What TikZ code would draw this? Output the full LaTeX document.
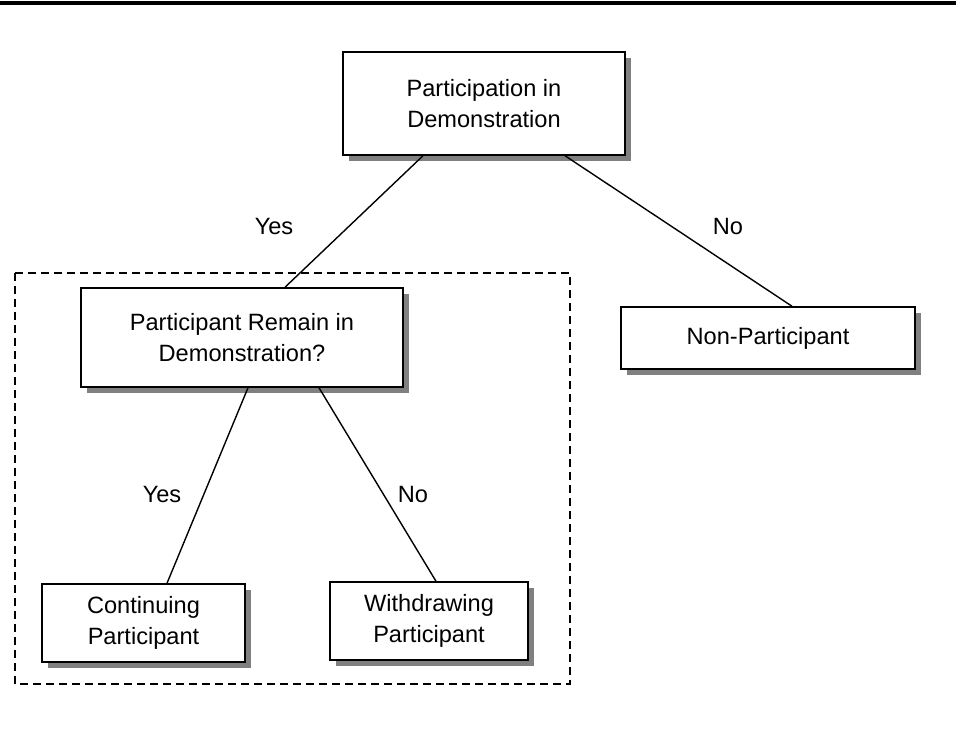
\documentclass[tikz,border=0pt]{standalone}
\usepackage{fontspec}
\setmainfont{Liberation Sans}
\usetikzlibrary{shadows}
\tikzset{
  box/.style  = {draw,fill=white,line width=0.75pt,align=center,inner sep=0pt,
                 font=\fontsize{11.8}{15.5}\selectfont,
                 drop shadow={shadow xshift=3pt,shadow yshift=-3pt,fill=black!50,opacity=1}},
  link/.style = {line width=0.7pt},
  lbl/.style  = {font=\fontsize{11.8}{15.5}\selectfont}
}

\begin{document}
\begin{tikzpicture}[x=0.5pt,y=-0.5pt]
  \useasboundingbox (0,0) rectangle (956,738);
  \draw[line width=2pt] (0,3) -- (956,3);
  % group round the follow-up question
  \draw[dash pattern=on 4pt off 2.5pt,line width=0.65pt] (15,273) rectangle (570,684);
  \node[box,minimum width=141pt,minimum height=51.5pt] (part) at (484,103.5) {Participation in\\Demonstration};
  \node[box,minimum width=161pt,minimum height=49.5pt] (remain) at (242,337.5) {Participant Remain in\\Demonstration?};
  \node[box,minimum width=147pt,minimum height=31pt]   (nonpart) at (768,338) {Non-Participant};
  \node[box,minimum width=101.5pt,minimum height=39pt] (cont) at (143.5,623) {Continuing\\Participant};
  \node[box,minimum width=99pt,minimum height=39pt]    (withd) at (429,621) {Withdrawing\\Participant};
  \draw[link] ([xshift=-30.5pt]part.south) -- ([xshift=21.5pt]remain.north);
  \draw[link] ([xshift=40.5pt]part.south) -- ([xshift=12pt]nonpart.north);
  \draw[link] ([xshift=3pt]remain.south) -- ([xshift=11.75pt]cont.north);
  \draw[link] ([xshift=38.5pt]remain.south) -- ([xshift=3.5pt]withd.north);
  \node[lbl] (yesA) at (274,226) {Yes};
  \node[lbl] (noA)  at (728,226) {No};
  \node[lbl] (yesB) at (162,494) {Yes};
  \node[lbl] (noB)  at (413,494) {No};
\end{tikzpicture}
\end{document}
